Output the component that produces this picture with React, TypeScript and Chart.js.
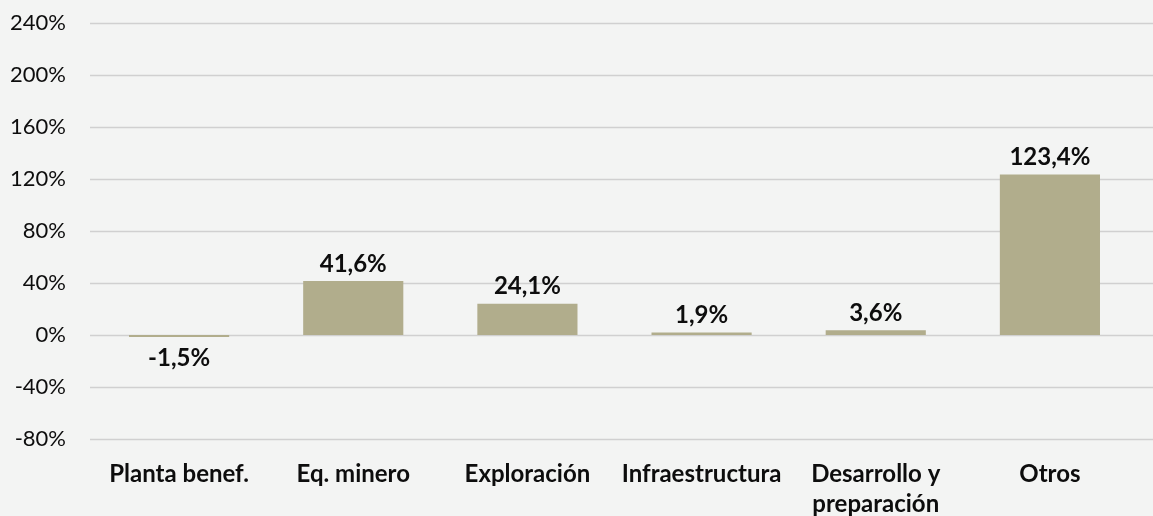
import React, { useEffect, useRef } from "react";
import { Chart, registerables } from "chart.js";

Chart.register(...registerables);

const categories: (string | string[])[] = [
  "Planta benef.",
  "Eq. minero",
  "Exploración",
  "Infraestructura",
  ["Desarrollo y", "preparación"],
  "Otros",
];
const values: number[] = [-1.5, 41.6, 24.1, 1.9, 3.6, 123.4];
const yMin = -80;
const yMax = 240;
const yStep = 40;

const BG = "#f3f4f3";
const BAR = "#b1ad8c";
const GRID = "#d0d0d0";
const TEXT = "#0d0d0d";
const FONT = "Lato, 'Open Sans', sans-serif";

const fmt = (v: number) => v.toFixed(1).replace(".", ",") + "%";

const gridPlugin = {
  id: "fullGrid",
  beforeDatasetsDraw(chart: any) {
    const { ctx } = chart;
    const y = chart.scales.y;
    ctx.save();
    ctx.strokeStyle = GRID;
    ctx.lineWidth = 1.6;
    y.ticks.forEach((t: any) => {
      const py = Math.round(y.getPixelForValue(t.value)) + 0.5;
      ctx.beginPath();
      ctx.moveTo(90, py);
      ctx.lineTo(chart.width, py);
      ctx.stroke();
    });
    ctx.restore();
  },
};

const labelPlugin = {
  id: "valueLabels",
  afterDatasetsDraw(chart: any) {
    const { ctx } = chart;
    const meta = chart.getDatasetMeta(0);
    ctx.save();
    ctx.fillStyle = TEXT;
    ctx.font = `bold 24px ${FONT}`;
    ctx.textAlign = "center";
    meta.data.forEach((bar: any, i: number) => {
      const v = values[i];
      if (v >= 0) {
        ctx.textBaseline = "bottom";
        ctx.fillText(fmt(v), bar.x, bar.y - 5);
      } else {
        ctx.textBaseline = "top";
        ctx.fillText(fmt(v), bar.x, bar.y + 9);
      }
    });
    ctx.restore();
  },
};

export default function App() {
  const ref = useRef<HTMLCanvasElement | null>(null);

  useEffect(() => {
    document.body.style.margin = "0";
    document.body.style.background = BG;
    if (!ref.current) return;
    const chart = new Chart(ref.current, {
      type: "bar",
      data: {
        labels: categories,
        datasets: [
          {
            data: values,
            backgroundColor: BAR,
            borderWidth: 0,
            barPercentage: 0.575,
            categoryPercentage: 1,
          },
        ],
      },
      options: {
        animation: false,
        responsive: false,
        maintainAspectRatio: false,
        layout: { padding: { top: 23, right: 16, left: 0, bottom: 0 } },
        plugins: {
          legend: { display: false },
          tooltip: { enabled: false },
        },
        scales: {
          x: {
            grid: { display: false, drawTicks: false },
            border: { display: false },
            ticks: {
              color: TEXT,
              font: { family: FONT, size: 24, weight: "bold", lineHeight: 1.25 },
              padding: 20,
              maxRotation: 0,
              autoSkip: false,
            },
            afterFit(scale: any) {
              scale.height = 77;
              scale.paddingLeft = 0;
              scale.paddingRight = 0;
            },
          },
          y: {
            min: yMin,
            max: yMax,
            grid: { display: false, drawTicks: false },
            border: { display: false },
            ticks: {
              stepSize: yStep,
              color: TEXT,
              font: { family: FONT, size: 22 },
              padding: 26,
              callback: (v: any) => `${v}%`,
            },
            afterFit(scale: any) {
              scale.width = 92;
              scale.paddingTop = 0;
              scale.paddingBottom = 0;
            },
          },
        },
      },
      plugins: [gridPlugin, labelPlugin],
    });
    return () => chart.destroy();
  }, []);

  return (
    <div style={{ width: 1153, height: 516, background: BG }}>
      <canvas ref={ref} width={1153} height={516} />
    </div>
  );
}
